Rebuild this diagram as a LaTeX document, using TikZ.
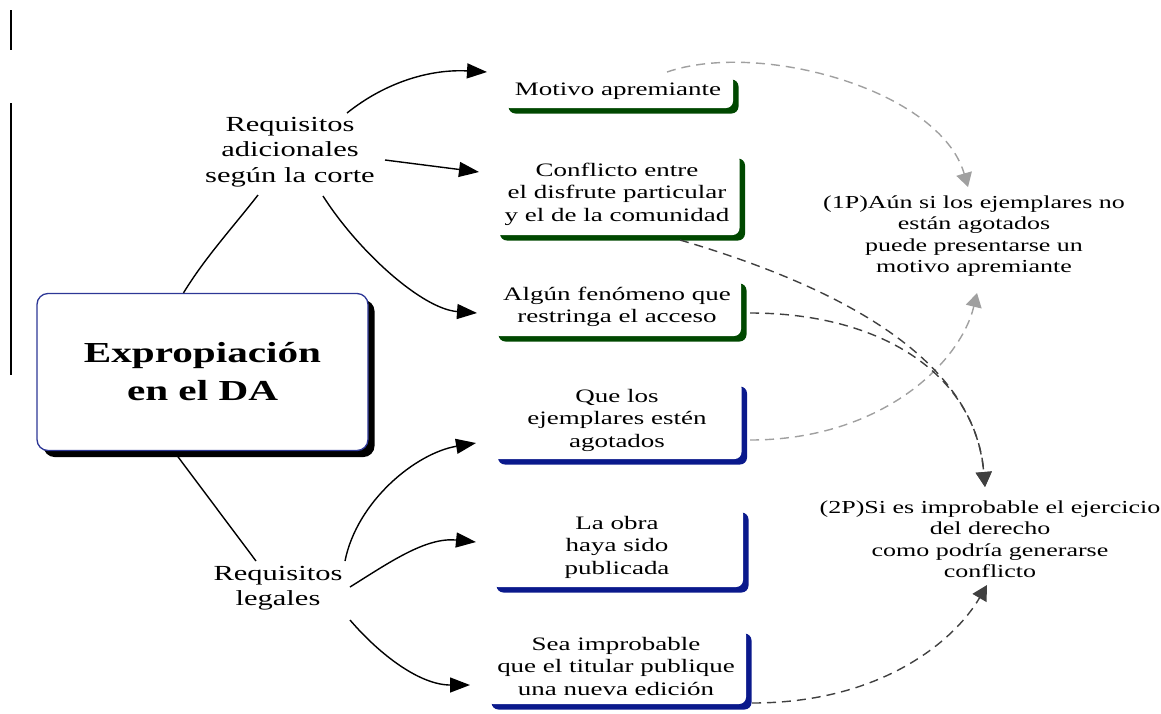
\documentclass[tikz,border=0pt]{standalone}
\usepackage{fontspec}
\setmainfont[FakeStretch=1.42]{Liberation Serif}
\usetikzlibrary{shadows,arrows.meta,calc}
\definecolor{dgreen}{RGB}{0,72,0}
\definecolor{dblue}{RGB}{10,25,140}
\definecolor{bborder}{RGB}{45,55,150}
\definecolor{lgray}{RGB}{160,160,160}
\definecolor{dgray}{RGB}{64,64,64}
\tikzset{
  tbox/.style={fill=white, rounded corners=7pt, inner sep=0pt, align=center,
    font=\fontsize{19}{22.5}\selectfont},
  gbox/.style={tbox, drop shadow={shadow xshift=5.5pt, shadow yshift=-5.5pt, fill=dgreen, opacity=1}},
  bbox/.style={tbox, drop shadow={shadow xshift=5.5pt, shadow yshift=-5.5pt, fill=dblue, opacity=1}},
  mainbox/.style={draw=bborder, line width=1.3pt, fill=white, rounded corners=11pt,
    drop shadow={shadow xshift=6.5pt, shadow yshift=-6.5pt, fill=black, opacity=1},
    minimum width=331pt, minimum height=157pt, align=center,
    font=\fontsize{29}{38}\selectfont\bfseries},
  label20/.style={align=center, inner sep=0pt, font=\fontsize{21.5}{25.5}\selectfont},
  label18/.style={align=center, inner sep=0pt, font=\fontsize{18.3}{21.5}\selectfont},
  conn/.style={line width=1.4pt, black},
  arr/.style={conn, -{Triangle[length=20pt,width=15pt]}},
  dashg/.style={line width=1.4pt, dash pattern=on 9pt off 6pt, lgray, -{Triangle[length=14pt,width=16pt]}},
  dashd/.style={line width=1.4pt, dash pattern=on 9pt off 6pt, dgray, -{Triangle[length=15pt,width=16pt]}}
}
\begin{document}
\begin{tikzpicture}[x=1pt,y=-1pt]
\useasboundingbox (0,0) rectangle (1161,713);
% margin marks
\draw[line width=2pt] (11,10) -- (11,50);
\draw[line width=2pt] (11,103) -- (11,375);
% main
\node[mainbox] (main) at (202.5,372) {Expropiación\\en el DA};
\node[label20] (ra) at (290,152) {Requisitos\\adicionales\\según la corte};
\node[label20] (rl) at (278,588) {Requisitos\\legales};
% boxes
\node[gbox, minimum width=230pt, minimum height=34pt] (mot) at (618,91) {Motivo apremiante};
\node[gbox, minimum width=245pt, minimum height=82pt] (con) at (617,194) {Conflicto entre\\el disfrute particular\\y el de la comunidad};
\node[gbox, minimum width=248pt, minimum height=58pt] (alg) at (617,307) {Algún fenómeno que\\restringa el acceso};
\node[bbox, minimum width=249pt, minimum height=78pt] (que) at (617,420) {Que los\\ejemplares estén\\agotados};
\node[bbox, minimum width=252pt, minimum height=80pt] (obr) at (617,547) {La obra\\haya sido\\publicada};
\node[bbox, minimum width=260pt, minimum height=76pt] (sea) at (616,666) {Sea improbable\\que el titular publique\\una nueva edición};
% conclusions
\node[label18] (p1) at (974,236) {(1P)Aún si los ejemplares no\\están agotados\\puede presentarse un\\motivo apremiante};
\node[label18] (p2) at (990,539) {(2P)Si es improbable el ejercicio\\del derecho\\como podría generarse\\conflicto};
% solid connectors
\draw[conn] ($(main.north)+(-19,0)$) .. controls +(22,-36) and +(-24,31) .. ($(ra.center)+(-32,43)$);
\draw[conn] ($(main.south)+(-25,5)$) -- ($(rl.center)+(-22,-27)$);
\draw[arr] ($(ra.center)+(57,-39)$) .. controls +(40,-32) and +(-55,-3) .. ($(mot.center)+(-131,-19)$);
\draw[arr] ($(ra.center)+(95,8)$) -- ($(con.center)+(-138,-22)$);
\draw[arr] ($(ra.center)+(33,44)$) .. controls +(35,55) and +(-55,-4) .. ($(alg.center)+(-140,6)$);
\draw[arr] ($(rl.center)+(67,-27)$) .. controls +(12,-60) and +(-60,10) .. ($(que.center)+(-141,23)$);
\draw[arr] ($(rl.center)+(72,-1)$) .. controls +(40,-25) and +(-50,-5) .. ($(obr.center)+(-141,-5)$);
\draw[arr] ($(rl.center)+(72,32)$) .. controls +(30,35) and +(-50,0) .. ($(sea.center)+(-146,19)$);
% dashed connectors
\draw[dashg] ($(mot.center)+(49,-19)$) .. controls +(93,-32) and +(-28,-97) .. ($(p1.center)+(-6,-49)$);
\draw[dashg] ($(que.center)+(133,20)$) .. controls +(130,0) and +(-17,71) .. ($(p1.center)+(3,57)$);
\draw[dashd] ($(con.center)+(63,46)$) .. controls +(170,50) and +(-10,-124) .. ($(p2.center)+(-5,-52)$);
\draw[dashd] ($(alg.center)+(133,6)$) .. controls +(130,0) and +(-10,-114) .. ($(p2.center)+(-5,-52)$);
\draw[dashd] ($(sea.center)+(136,37)$) .. controls +(130,0) and +(-32,55) .. ($(p2.center)+(-3,46)$);
\end{tikzpicture}
\end{document}
